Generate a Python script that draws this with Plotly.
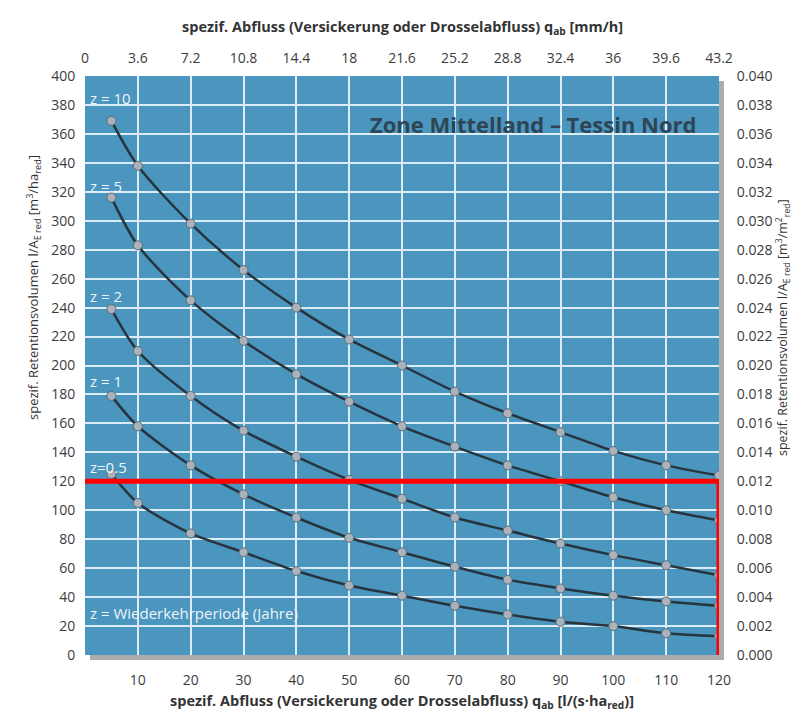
import plotly.graph_objects as go

# --- data ---
q_ls = [5, 10, 20, 30, 40, 50, 60, 70, 80, 90, 100, 110, 120]
z10 = [369, 338, 298, 266, 240, 218, 200, 182, 167, 154, 141, 131, 124]
z5 = [316, 283, 245, 217, 194, 175, 158, 144, 131, 120, 109, 100, 93]
z2 = [239, 210, 179, 155, 137, 121, 108, 95, 86, 77, 69, 62, 55]
z1 = [179, 158, 131, 111, 95, 81, 71, 61, 52, 46, 41, 37, 34]
z05 = [125, 105, 84, 71, 58, 48, 41, 34, 28, 23, 20, 15, 13]

series_names = ["z = 10", "z = 5", "z = 2", "z = 1", "z=0.5"]
series_values = [z10, z5, z2, z1, z05]
label_y = [385, 324, 248, 189, 130]

bottom_ticks = [10, 20, 30, 40, 50, 60, 70, 80, 90, 100, 110, 120]
top_ticks = [0, 3.6, 7.2, 10.8, 14.4, 18, 21.6, 25.2, 28.8, 32.4, 36, 39.6, 43.2]
top_tick_text = ["0", "3.6", "7.2", "10.8", "14.4", "18", "21.6", "25.2", "28.8", "32.4", "36", "39.6", "43.2"]
right_ticks = [i * 0.002 for i in range(21)]
limit_y = 120
limit_x = 120

FONT = "Open Sans"
TICKC = "#3c3c3c"

fig = go.Figure()

for name, vals in zip(series_names, series_values):
    fig.add_trace(go.Scatter(
        x=q_ls, y=vals, mode="lines+markers", name=name,
        line=dict(color="#27343e", width=2.5, shape="spline", smoothing=0.8),
        marker=dict(size=9, color="#aab3bb", line=dict(color="#5f6b75", width=1)),
        showlegend=False, hoverinfo="x+y",
    ))

# invisible trace carrying the secondary axes
fig.add_trace(go.Scatter(x=[0, 43.2], y=[0, 0.04], xaxis="x2", yaxis="y2",
                         mode="markers", marker=dict(opacity=0), showlegend=False,
                         hoverinfo="skip"))

fig.update_layout(
    width=800, height=712,
    margin=dict(l=77, r=89, t=68, b=65),
    paper_bgcolor="white",
    plot_bgcolor="#4a96bf",
    font=dict(family=FONT, size=14, color=TICKC),
    xaxis=dict(range=[0, 120], tickvals=bottom_ticks, showgrid=True,
               gridcolor="#dcecf5", gridwidth=1.5, zeroline=False,
               ticks="outside", ticklen=12, tickcolor="rgba(0,0,0,0)",
               showline=False, tickfont=dict(size=14, color=TICKC)),
    xaxis2=dict(range=[0, 43.2], overlaying="x", side="top",
                tickvals=top_ticks, ticktext=top_tick_text, showgrid=False,
                zeroline=False, ticks="outside", ticklen=6,
                tickcolor="rgba(0,0,0,0)", tickfont=dict(size=14, color=TICKC)),
    yaxis=dict(range=[0, 400], dtick=20, showgrid=True, gridcolor="#dcecf5",
               gridwidth=1.5, zeroline=False, ticks="outside", ticklen=6,
               tickcolor="rgba(0,0,0,0)", tickfont=dict(size=14, color=TICKC)),
    yaxis2=dict(range=[0, 0.04], overlaying="y", side="right",
                tickvals=right_ticks, tickformat=".3f", showgrid=False,
                zeroline=False, ticks="outside", ticklen=14,
                tickcolor="rgba(0,0,0,0)", tickfont=dict(size=14, color=TICKC)),
)

# plot-area shadow (outside the plot area)
fig.add_shape(type="rect", xref="paper", yref="paper",
              x0=1.0, x1=1.0 + 5 / 634, y0=-5 / 579, y1=1 - 5 / 579,
              fillcolor="#a9adb0", line=dict(width=0), layer="below")
fig.add_shape(type="rect", xref="paper", yref="paper",
              x0=5 / 634, x1=1.0 + 5 / 634, y0=-5 / 579, y1=0,
              fillcolor="#a9adb0", line=dict(width=0), layer="below")

# red limit lines
fig.add_shape(type="line", xref="x", yref="y", x0=0, x1=limit_x, y0=limit_y, y1=limit_y,
              line=dict(color="#ff0000", width=5), layer="above")
fig.add_shape(type="line", xref="x", yref="y", x0=limit_x, x1=limit_x, y0=0, y1=limit_y,
              line=dict(color="#ff0000", width=5), layer="above")

# curve labels
for name, yy in zip(series_names, label_y):
    fig.add_annotation(x=0.6, y=yy, xref="x", yref="y", text=name, showarrow=False,
                       xanchor="left", yanchor="middle",
                       font=dict(family=FONT, size=15, color="#eef4f8"))
fig.add_annotation(x=0.6, y=29, xref="x", yref="y", text="z = Wiederkehrperiode (Jahre)",
                   showarrow=False, xanchor="left", yanchor="middle",
                   font=dict(family=FONT, size=15, color="#eef4f8"))

fig.add_annotation(x=116.3, y=367, xref="x", yref="y", text="<b>Zone Mittelland – Tessin Nord</b>",
                   showarrow=False, xanchor="right", yanchor="middle",
                   font=dict(family=FONT, size=22, color="#2f4555"))

# axis titles
fig.add_annotation(x=0.5, y=(647 - 19) / 579, xref="paper", yref="paper",
                   text="<b>spezif. Abfluss (Versickerung oder Drosselabfluss) q<sub>ab</sub> [mm/h]</b>",
                   showarrow=False, xanchor="center", yanchor="middle",
                   font=dict(family=FONT, size=14.5, color="#333333"))
fig.add_annotation(x=0.5, y=(647 - 693) / 579, xref="paper", yref="paper",
                   text="<b>spezif. Abfluss (Versickerung oder Drosselabfluss) q<sub>ab</sub> [l/(s·ha<sub>red</sub>)]</b>",
                   showarrow=False, xanchor="center", yanchor="middle",
                   font=dict(family=FONT, size=14.5, color="#333333"))
fig.add_annotation(x=(25 - 77) / 634, y=(647 - 280) / 579, xref="paper", yref="paper",
                   text="spezif. Retentionsvolumen l/A<sub>E red</sub> [m<sup>3</sup>/ha<sub>red</sub>]",
                   showarrow=False, textangle=-90, xanchor="center", yanchor="middle",
                   font=dict(family=FONT, size=13, color="#333333"))
fig.add_annotation(x=(775 - 77) / 634, y=(647 - 320) / 579, xref="paper", yref="paper",
                   text="spezif. Retentionsvolumen l/A<sub>E red</sub> [m<sup>3</sup>/m<sup>2</sup><sub>red</sub>]",
                   showarrow=False, textangle=-90, xanchor="center", yanchor="middle",
                   font=dict(family=FONT, size=12.5, color="#333333"))

fig.write_html("out.html")
